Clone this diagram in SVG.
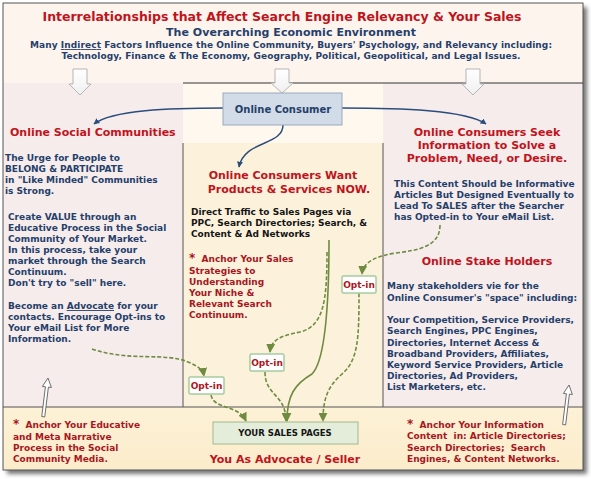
<svg xmlns="http://www.w3.org/2000/svg" width="591" height="479" viewBox="0 0 591 479">
<style>
text{font-family:"DejaVu Sans","Verdana",sans-serif;font-weight:bold;white-space:pre}
.ttl{fill:#c0141c;font-size:12.5px}
.hd{fill:#c0141c;font-size:11px}
.blue{fill:#253f6b;font-size:9px}
.blk{fill:#151515;font-size:9px}
.anc{fill:#a8161e;font-size:9px}
.mid{text-anchor:middle}
.opt{fill:#fff;stroke:#a9cba4;stroke-width:1.5}
.optt{fill:#b0141c;font-size:9px;text-anchor:middle}
.bl{fill:none;stroke:#2b4d7c;stroke-width:1.5}
.gd{fill:none;stroke:#6f8b3f;stroke-width:1.6;stroke-dasharray:4 2}
.gs{fill:none;stroke:#6f8b3f;stroke-width:1.6}
.wa{fill:url(#wg);stroke:#b5b5b5;stroke-width:1}
.ta{fill:#fff;stroke:#555;stroke-width:0.8}
</style>
<defs>
<linearGradient id="wg" x1="0" y1="0" x2="0" y2="1"><stop offset="0" stop-color="#fff"/><stop offset="1" stop-color="#f0f0f0"/></linearGradient>
<linearGradient id="bg" x1="0" y1="0" x2="0" y2="1"><stop offset="0" stop-color="#fdf1d6"/><stop offset="1" stop-color="#fbeccb"/></linearGradient>
<filter id="sh" x="-5%" y="-5%" width="110%" height="110%"><feGaussianBlur stdDeviation="2"/></filter>
<filter id="gl" x="-20%" y="-20%" width="140%" height="140%"><feGaussianBlur stdDeviation="0.8"/></filter>
<marker id="ab" viewBox="0 0 10 10" refX="9" refY="5" markerWidth="6" markerHeight="6" orient="auto" markerUnits="userSpaceOnUse"><path d="M0,0 L10,5 L0,10 z" fill="#2b4d7c"/></marker>
<marker id="ag" viewBox="0 0 10 10" refX="9" refY="5" markerWidth="9" markerHeight="9" orient="auto" markerUnits="userSpaceOnUse"><path d="M0,0 L10,5 L0,10 z" fill="#6f8b3f"/></marker>
</defs>
<rect x="7" y="7" width="580" height="467" fill="#777" filter="url(#sh)"/>
<g id="background">
<rect x="3" y="3" width="580" height="80" fill="#fdf4ee"/>
<rect x="3" y="83" width="180" height="324" fill="#f6ecec"/>
<rect x="183" y="83" width="200" height="60" fill="#fef8ef"/>
<rect x="183" y="143" width="200" height="264" fill="#fcf2dc"/>
<rect x="383" y="83" width="200" height="324" fill="#f6ecec"/>
<rect x="3" y="407" width="580" height="63" fill="url(#bg)"/>
<rect x="3" y="3" width="580" height="467" fill="none" stroke="#555" stroke-width="1"/>
<line x1="183" y1="83" x2="583" y2="83" stroke="#333" stroke-width="1.2"/>
<line x1="183" y1="143" x2="183" y2="407" stroke="#555" stroke-width="1"/>
<line x1="383" y1="143" x2="383" y2="407" stroke="#555" stroke-width="1"/>
<line x1="3" y1="407" x2="583" y2="407" stroke="#555" stroke-width="1"/>
</g>
<g id="header">
<text class="ttl mid" x="282" y="21" textLength="479">Interrelationships that Affect Search Engine Relevancy &amp; Your Sales</text>
<text class="mid" x="291" y="36" fill="#253f6b" font-size="11" textLength="250">The Overarching Economic Environment</text>
<text class="mid" x="291" y="48" fill="#253f6b" font-size="9" textLength="522">Many <tspan text-decoration="underline">Indirect</tspan> Factors Influence the Online Community, Buyers' Psychology, and Relevancy including:</text>
<text class="mid" x="291" y="59" fill="#253f6b" font-size="9" textLength="459">Technology, Finance &amp; The Economy, Geography, Political, Geopolitical, and Legal Issues.</text>
</g>
<g id="down-arrows">
<path class="wa" d="M73,69 H87 V84 H91 L80,95 L69,84 H73 Z"/>
<path class="wa" d="M275,69 H289 V83 H293 L282,93 L271,83 H275 Z"/>
<path class="wa" d="M466,69 H480 V84 H484 L473,95 L462,84 H466 Z"/>
</g>
<g id="connectors">
<path class="bl" d="M223,108 C170,108 112,110 94,124" marker-end="url(#ab)"/>
<path class="bl" d="M342,108 C400,108 466,110 486,124" marker-end="url(#ab)"/>
<path class="bl" d="M283,125 C283,146 244,140 239,167" marker-end="url(#ab)"/>
<path class="gd" d="M92,349 C130,362 165,352 188,362 C198,366 203,370 204,376" marker-end="url(#ag)"/>
<path class="gd" d="M211,395 C214,410 238,404 246,421" marker-end="url(#ag)"/>
<path class="gd" d="M265,372 C265,396 286,394 286,421" marker-end="url(#ag)"/>
<path class="gs" d="M329,240 C329,300 326,360 312,374 C295,384 287,395 287,421" marker-end="url(#ag)"/>
<path class="gd" d="M327,252 C327,300 324,326 300,332 C280,336 271,340 270,352" marker-end="url(#ag)"/>
<path class="gd" d="M359,293 C359,340 358,360 342,374 C327,387 323,400 323,421" marker-end="url(#ag)"/>
<path class="gd" d="M440,225 C440,246 420,250 396,253 C376,256 363,262 362,274" marker-end="url(#ag)"/>
</g>
<g id="up-arrows">
<path class="ta" transform="translate(48,378) rotate(7)" d="M0,0 L4.5,9 L1.5,9 L1.5,39 L-1.5,39 L-1.5,9 L-4.5,9 Z"/>
<path class="ta" transform="translate(569,385) rotate(7)" d="M0,0 L4.5,9 L1.5,9 L1.5,40 L-1.5,40 L-1.5,9 L-4.5,9 Z"/>
</g>
<g id="online-consumer">
<rect x="223" y="93" width="119" height="32" fill="#d2dce8" stroke="#9aa9bb" stroke-width="1"/>
<text class="mid" x="283" y="113" fill="#253f6b" font-size="10">Online Consumer</text>
</g>
<g id="social-communities">
<text class="hd" x="10" y="136">Online Social Communities</text>
<text class="blue" x="5" y="161">The Urge for People to</text>
<text class="blue" x="5" y="172">BELONG &amp; PARTICIPATE</text>
<text class="blue" x="5" y="183">in "Like Minded" Communities</text>
<text class="blue" x="5" y="194">is Strong.</text>
<text class="blue" x="8" y="220">Create VALUE through an</text>
<text class="blue" x="8" y="231">Educative Process in the Social</text>
<text class="blue" x="8" y="242">Community of Your Market.</text>
<text class="blue" x="8" y="253">In this process, take your</text>
<text class="blue" x="8" y="264">market through the Search</text>
<text class="blue" x="8" y="275">Continuum.</text>
<text class="blue" x="8" y="286">Don't try to "sell" here.</text>
<text class="blue" x="8" y="309">Become an <tspan text-decoration="underline">Advocate</tspan> for your</text>
<text class="blue" x="8" y="320">contacts. Encourage Opt-ins to</text>
<text class="blue" x="8" y="331">Your eMail List for More</text>
<text class="blue" x="8" y="342">Information.</text>
</g>
<g id="consumers-want">
<text class="hd mid" x="283" y="179">Online Consumers Want</text>
<text class="hd mid" x="289" y="193">Products &amp; Services NOW.</text>
<text class="blk" x="191" y="215">Direct Traffic to Sales Pages via</text>
<text class="blk" x="191" y="226">PPC, Search Directories; Search, &amp;</text>
<text class="blk" x="191" y="237">Content &amp; Ad Networks</text>
<text class="anc" x="189" y="262"><tspan font-size="12">*</tspan>  Anchor Your Sales</text>
<text class="anc" x="189" y="274">Strategies to</text>
<text class="anc" x="189" y="285">Understanding</text>
<text class="anc" x="189" y="296">Your Niche &amp;</text>
<text class="anc" x="189" y="307">Relevant Search</text>
<text class="anc" x="189" y="318">Continuum.</text>
</g>
<g id="consumers-seek">
<text class="hd mid" x="487" y="136">Online Consumers Seek</text>
<text class="hd mid" x="487" y="149">Information to Solve a</text>
<text class="hd mid" x="487" y="162">Problem, Need, or Desire.</text>
<text class="blue" x="394" y="187">This Content Should be Informative</text>
<text class="blue" x="394" y="198">Articles But Designed Eventually to</text>
<text class="blue" x="394" y="209">Lead To SALES after the Searcher</text>
<text class="blue" x="394" y="220">has Opted-in to Your eMail List.</text>
</g>
<g id="stake-holders">
<text class="hd mid" x="487" y="265">Online Stake Holders</text>
<text class="blue" x="387" y="289">Many stakeholders vie for the</text>
<text class="blue" x="387" y="301">Online Consumer's "space" including:</text>
<text class="blue" x="387" y="323">Your Competition, Service Providers,</text>
<text class="blue" x="387" y="334">Search Engines, PPC Engines,</text>
<text class="blue" x="387" y="346">Directories, Internet Access &amp;</text>
<text class="blue" x="387" y="357">Broadband Providers, Affiliates,</text>
<text class="blue" x="387" y="368">Keyword Service Providers, Article</text>
<text class="blue" x="387" y="379">Directories, Ad Providers,</text>
<text class="blue" x="387" y="390">List Marketers, etc.</text>
</g>
<g id="optin-1">
<rect x="189" y="377" width="35" height="17" rx="1.5" fill="#cfe3c8" filter="url(#gl)"/>
<rect class="opt" x="189" y="377" width="35" height="17" rx="1.5"/>
<text class="optt" x="206.5" y="389">Opt-in</text>
</g>
<g id="optin-2">
<rect x="250" y="354" width="34" height="17" rx="1.5" fill="#cfe3c8" filter="url(#gl)"/>
<rect class="opt" x="250" y="354" width="34" height="17" rx="1.5"/>
<text class="optt" x="267" y="366">Opt-in</text>
</g>
<g id="optin-3">
<rect x="342" y="276" width="34" height="17" rx="1.5" fill="#cfe3c8" filter="url(#gl)"/>
<rect class="opt" x="342" y="276" width="34" height="17" rx="1.5"/>
<text class="optt" x="359" y="288">Opt-in</text>
</g>
<g id="anchor-left">
<text class="anc" x="13" y="428"><tspan font-size="12">*</tspan>  Anchor Your Educative</text>
<text class="anc" x="13" y="440">and Meta Narrative</text>
<text class="anc" x="13" y="451">Process in the Social</text>
<text class="anc" x="13" y="462">Community Media.</text>
</g>
<g id="sales-pages">
<rect x="213" y="422" width="145" height="22" fill="#e4ecda" stroke="#9fba8e" stroke-width="1"/>
<text class="mid" x="285" y="436" fill="#151515" font-size="8.5">YOUR SALES PAGES</text>
<text class="hd mid" x="285" y="463">You As Advocate / Seller</text>
</g>
<g id="anchor-right">
<text class="anc" x="407" y="428"><tspan font-size="12">*</tspan>  Anchor Your Information</text>
<text class="anc" x="407" y="439">Content  in: Article Directories;</text>
<text class="anc" x="407" y="451">Search Directories;  Search</text>
<text class="anc" x="407" y="462">Engines, &amp; Content Networks.</text>
</g>
</svg>
